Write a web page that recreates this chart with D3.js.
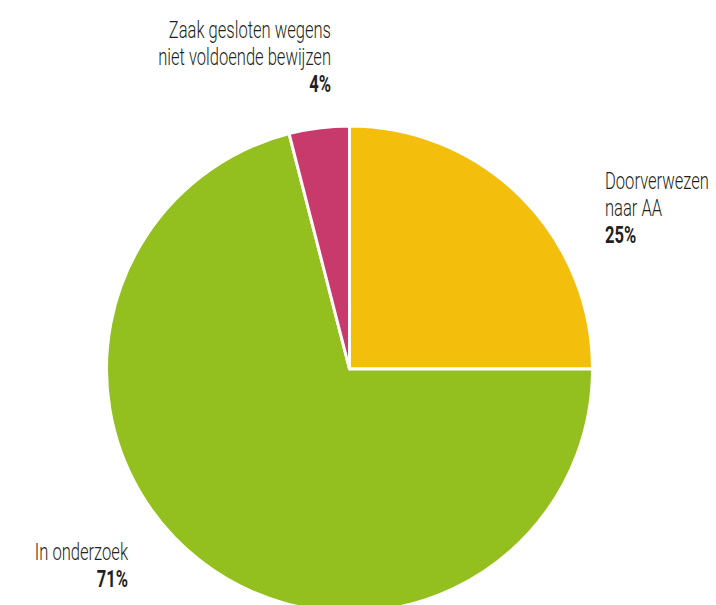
<!DOCTYPE html>
<html>
<head>
<meta charset="utf-8">
<script src="https://cdn.jsdelivr.net/npm/d3@7"></script>
<style>
  body { margin: 0; background: #fff; }
  text { font-family: Roboto, sans-serif; fill: #231f20; }
</style>
</head>
<body>
<div id="chart"></div>
<script>
const categories = ['Doorverwezen naar AA', 'In onderzoek', 'Zaak gesloten wegens niet voldoende bewijzen'];
const values = [25, 71, 4];
const colors = ['#f4be0c', '#93c01f', '#c8396c'];
// label lines per slice
const labelLines = [['Doorverwezen', 'naar AA'], ['In onderzoek'], ['Zaak gesloten wegens', 'niet voldoende bewijzen']];

const width = 716, height = 605;
const cx = 349.5, cy = 369, radius = 243;

const svg = d3.select('#chart').append('svg')
  .attr('width', width)
  .attr('height', height);

const pie = d3.pie().sort(null).value(d => d);
const arc = d3.arc().innerRadius(0).outerRadius(radius);

const g = svg.append('g').attr('transform', `translate(${cx},${cy})`);
g.selectAll('path')
  .data(pie(values))
  .join('path')
  .attr('d', arc)
  .attr('fill', (d, i) => colors[i])
  .attr('stroke', '#fff')
  .attr('stroke-width', 3)
  .attr('stroke-linejoin', 'round');

// label anchors (x, first baseline, anchor)
const labelPos = [
  { x: 605, y: 189, anchor: 'start' },
  { x: 128, y: 560, anchor: 'end' },
  { x: 331, y: 38, anchor: 'end' }
];
const lineH = 27;
const squeeze = 0.72;

labelPos.forEach((p, i) => {
  const lg = svg.append('g')
    .attr('transform', `translate(${p.x},${p.y}) scale(${squeeze},1)`);
  const lines = labelLines[i];
  lines.forEach((t, j) => {
    lg.append('text')
      .attr('x', 0)
      .attr('y', j * lineH)
      .attr('text-anchor', p.anchor)
      .attr('font-size', 23)
      .attr('font-weight', 300)
      .text(t);
  });
  lg.append('text')
    .attr('x', 0)
    .attr('y', lines.length * lineH)
    .attr('text-anchor', p.anchor)
    .attr('font-size', 23)
    .attr('font-weight', 700)
    .text(values[i] + '%');
});
</script>
</body>
</html>
